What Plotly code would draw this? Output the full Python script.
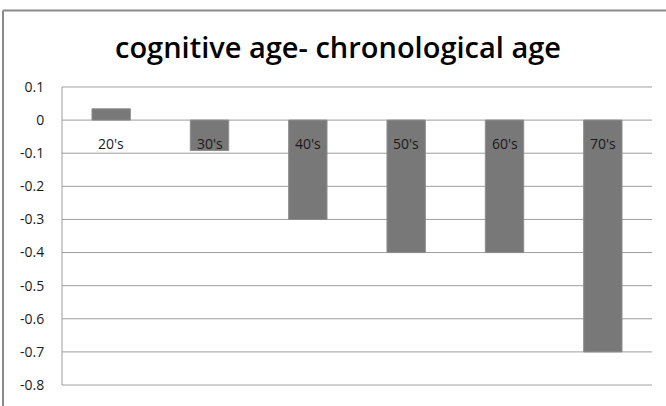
import plotly.graph_objects as go

categories = ["20's", "30's", "40's", "50's", "60's", "70's"]
values = [0.034, -0.092, -0.3, -0.4, -0.4, -0.7]
tick_vals = [0.1, 0, -0.1, -0.2, -0.3, -0.4, -0.5, -0.6, -0.7, -0.8]
tick_text = ["0.1", "0", "-0.1", "-0.2", "-0.3", "-0.4", "-0.5", "-0.6", "-0.7", "-0.8"]
title_text = "cognitive age- chronological age"

W, H = 666, 406
padpx = 3
ml, mr, mt, mb = 62, 14, 87 - padpx, 19 - padpx
pw, ph = W - ml - mr, H - mt - mb
FONT = "Open Sans, Liberation Sans"
GRID = "#9e9e9e"

ymax, ymin = max(tick_vals), min(tick_vals)
pad = (ymax - ymin) / 300 * padpx

fig = go.Figure()
fig.add_trace(go.Bar(
    x=categories, y=values,
    marker=dict(color="#787878", line=dict(color="#8c8c8c", width=1)),
    width=0.39,
))

for c in categories:
    fig.add_annotation(x=c, y=0, xref="x", yref="y", text=c, showarrow=False,
                       yanchor="top", yshift=-12,
                       font=dict(family=FONT, size=14, color="#1a1a1a"))

# gridlines and left axis line
for yv in tick_vals:
    fig.add_shape(type="line", xref="paper", yref="y", x0=0, x1=1, y0=yv, y1=yv,
                  line=dict(color=GRID, width=1), layer="below")
fig.add_shape(type="line", xref="paper", yref="y", x0=0, x1=0, y0=ymin, y1=ymax,
              line=dict(color=GRID, width=1), layer="below")

# outer chart border (left and top)
bx = (3 - ml) / pw
by = (H - mb - 10) / ph
fig.add_shape(type="line", xref="paper", yref="paper",
              x0=bx, x1=bx, y0=by, y1=-(mb + 10) / ph,
              line=dict(color="#8a8a8a", width=2))
fig.add_shape(type="line", xref="paper", yref="paper",
              x0=bx, x1=(W + 10 - ml) / pw, y0=by, y1=by,
              line=dict(color="#8a8a8a", width=2))

fig.update_layout(
    width=W, height=H,
    margin=dict(l=ml, r=mr, t=mt, b=mb),
    paper_bgcolor="white", plot_bgcolor="white",
    showlegend=False,
    title=dict(text=title_text, x=338 / W, xanchor="center", y=1 - 48 / H, yanchor="middle",
               font=dict(family=FONT, size=29, color="#000000", weight=600)),
    xaxis=dict(showticklabels=False, showgrid=False, zeroline=False, showline=False, ticks=""),
    yaxis=dict(range=[ymin - pad, ymax + pad], tickvals=tick_vals, ticktext=tick_text,
               showgrid=False, zeroline=False, showline=False,
               ticks="outside", ticklen=14, tickcolor="rgba(0,0,0,0)",
               tickfont=dict(family=FONT, size=14, color="#1a1a1a")),
)

fig.write_html("out.html")
